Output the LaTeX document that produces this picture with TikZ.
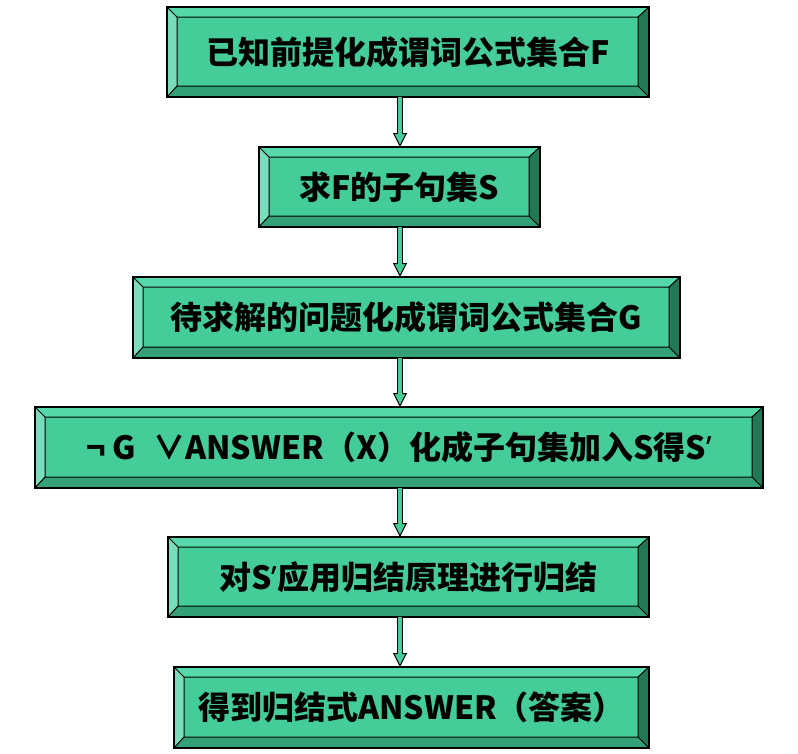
\documentclass[tikz,border=0pt]{standalone}
\usepackage{fontspec}
\setmainfont{Noto Sans CJK SC}
\newfontfamily\latinf{Noto Sans}
\newcommand{\prm}{{\latinf ’}}
\usetikzlibrary{arrows.meta, positioning, calc}
\definecolor{bFace}{HTML}{44CC99}
\definecolor{bTop}{HTML}{55D8AA}
\definecolor{bLeft}{HTML}{77DDBB}
\definecolor{bBot}{HTML}{33A077}
\definecolor{bRight}{HTML}{227755}

\begin{document}
\begin{tikzpicture}[x=1pt, y=1pt,
      every node/.style={font=\fontsize{32}{38}\selectfont\bfseries},
      bx/.style={draw, line width=1.5pt, fill=bFace, inner sep=0pt, outer sep=0pt,
        path picture={
          \coordinate (p1) at (path picture bounding box.north west);
          \coordinate (p2) at (path picture bounding box.north east);
          \coordinate (p3) at (path picture bounding box.south east);
          \coordinate (p4) at (path picture bounding box.south west);
          \coordinate (q1) at ([shift={(10,-10)}]p1);
          \coordinate (q2) at ([shift={(-11,-10)}]p2);
          \coordinate (q3) at ([shift={(-11,11)}]p3);
          \coordinate (q4) at ([shift={(10,11)}]p4);
          \fill[bTop]   (p1) -- (p2) -- (q2) -- (q1) -- cycle;
          \fill[bRight] (p2) -- (p3) -- (q3) -- (q2) -- cycle;
          \fill[bBot]   (p3) -- (p4) -- (q4) -- (q3) -- cycle;
          \fill[bLeft]  (p4) -- (p1) -- (q1) -- (q4) -- cycle;
          \draw[line width=1pt] (q1) rectangle (q3)
            (p1) -- (q1) (p2) -- (q2) (p3) -- (q3) (p4) -- (q4);
        }},
      flow/.style={line width=6pt, draw=black,
        -{Triangle[length=14pt, width=14pt, fill=bFace, line width=1pt]},
        postaction={draw=bFace, line width=4pt, -, shorten >=12pt}}]
    \useasboundingbox (0,0) rectangle (798,-753);
    % steps
    \node[bx, minimum width=482, minimum height=90] (b1) at (408,-52)    {已知前提化成谓词公式集合F};
    \node[bx, minimum width=281, minimum height=80] (b2) at (399.5,-187) {求F的子句集S};
    \node[bx, minimum width=547, minimum height=81] (b3) at (406.5,-317.5) {待求解的问题化成谓词公式集合G};
    \node[bx, minimum width=728, minimum height=81] (b4) at (399,-447.5)
      {¬\hspace{0.2em}G\hspace{0.55em}∨ANSWER（X）化成子句集加入S得S\prm};
    \node[bx, minimum width=481, minimum height=80] (b5) at (408.5,-577) {对S\prm 应用归结原理进行归结};
    \node[bx, minimum width=475, minimum height=81] (b6) at (411.5,-707.5) {得到归结式ANSWER（答案）};
    % arrows
    \coordinate (ax) at (400,0);
    \draw[flow] (ax |- b1.south) -- (ax |- b2.north);
    \draw[flow] (ax |- b2.south) -- (ax |- b3.north);
    \draw[flow] (ax |- b3.south) -- (ax |- b4.north);
    \draw[flow] (ax |- b4.south) -- (ax |- b5.north);
    \draw[flow] (ax |- b5.south) -- (ax |- b6.north);
  \end{tikzpicture}
\end{document}
